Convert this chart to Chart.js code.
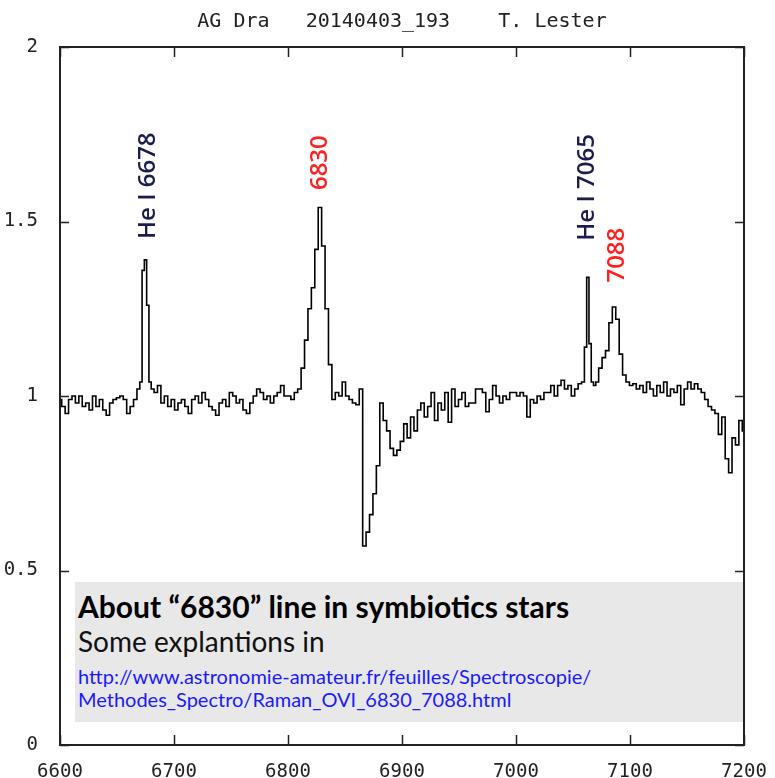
<!DOCTYPE html>
<html>
<head>
<meta charset="utf-8">
<title>AG Dra 20140403_193</title>
<script src="https://cdn.jsdelivr.net/npm/chart.js@4/dist/chart.umd.min.js"></script>
<style>
    body { margin: 0; background: #fff; }
    #wrap { position: relative; width: 775px; height: 778px; }
    #note {
        position: absolute; left: 75px; top: 582px; width: 668px; height: 140px;
        background: #e8e8e8; font-family: Lato, "Open Sans", sans-serif;
    }
    #note div { position: absolute; left: 3px; line-height: 1; white-space: nowrap; }
    #note .head { top: 9px; font-size: 30px; font-weight: bold; color: #000; }
    #note .sub { top: 45px; font-size: 28px; color: #111; }
    #note .url { font-size: 20px; color: #1a1aff; }
</style>
</head>
<body>
<div id="wrap">
    <canvas id="spectrum"></canvas>
    <div id="note">
        <div class="head">About “6830” line in symbiotics stars</div>
        <div class="sub">Some explantions in</div>
        <div class="url" style="top:84px">http://www.astronomie-amateur.fr/feuilles/Spectroscopie/</div>
        <div class="url" style="top:107px">Methodes_Spectro/Raman_OVI_6830_7088.html</div>
    </div>
</div>
<script>
    // wavelength in angstrom (denser around the narrow He I lines)
    var wavelength = [
        6600, 6603, 6606, 6609, 6612, 6615, 6618, 6621, 6624, 6627,
        6630, 6633, 6636, 6639, 6642, 6645, 6648, 6651, 6654, 6657,
        6660, 6663, 6666, 6669, 6671, 6673, 6675, 6677, 6679, 6681, 6684, 6687,
        6690, 6693, 6696, 6699, 6702, 6705, 6708, 6711, 6714, 6717,
        6720, 6723, 6726, 6729, 6732, 6735, 6738, 6741, 6744, 6747,
        6750, 6753, 6756, 6759, 6762, 6765, 6768, 6771, 6774, 6777,
        6780, 6783, 6786, 6789, 6792, 6795, 6798, 6801, 6804, 6807,
        6810, 6813, 6816, 6819, 6822, 6825, 6828, 6831, 6834, 6837,
        6840, 6843, 6846, 6849, 6852, 6855, 6858, 6861, 6864, 6867,
        6870, 6873, 6876, 6879, 6882, 6885, 6888, 6891, 6894, 6897,
        6900, 6903, 6906, 6909, 6912, 6915, 6918, 6921, 6924, 6927,
        6930, 6933, 6936, 6939, 6942, 6945, 6948, 6951, 6954, 6957,
        6960, 6963, 6966, 6969, 6972, 6975, 6978, 6981, 6984, 6987,
        6990, 6993, 6996, 6999, 7002, 7005, 7008, 7011, 7014, 7017,
        7020, 7023, 7026, 7029, 7032, 7035, 7038, 7041, 7044, 7047,
        7050, 7053, 7056, 7059, 7061, 7063, 7065, 7067, 7069, 7071, 7074, 7077,
        7080, 7083, 7086, 7089, 7092, 7095, 7098, 7101, 7104, 7107,
        7110, 7113, 7116, 7119, 7122, 7125, 7128, 7131, 7134, 7137,
        7140, 7143, 7146, 7149, 7152, 7155, 7158, 7161, 7164, 7167,
        7170, 7173, 7176, 7179, 7182, 7185, 7188, 7191, 7194, 7197,
        7200
    ];

    // relative flux (continuum = 1)
    var flux = [
        0.99, 0.97, 0.95, 0.99, 1.00, 0.98, 1.00, 0.97, 0.98, 0.96,
        1.00, 0.97, 0.99, 0.96, 0.945, 0.98, 0.99, 0.995, 1.00, 0.99,
        0.95, 0.97, 0.99, 1.02, 1.04, 1.36, 1.39, 1.26, 1.04, 1.02, 1.01, 1.03,
        0.98, 1.00, 0.97, 0.99, 0.96, 0.98, 0.99, 0.97, 0.95, 0.99,
        1.00, 0.98, 1.01, 0.99, 0.97, 0.96, 0.945, 0.98, 0.99, 0.97,
        1.01, 1.00, 0.98, 0.99, 0.96, 0.95, 0.98, 1.00, 1.02, 1.01,
        0.99, 1.00, 0.98, 1.00, 1.01, 1.03, 1.00, 1.00, 0.99, 1.01,
        1.02, 1.08, 1.16, 1.25, 1.31, 1.42, 1.54, 1.43, 1.25, 1.09,
        0.99, 1.01, 1.00, 1.04, 1.00, 0.99, 0.98, 0.975, 1.02, 0.57,
        0.61, 0.66, 0.72, 0.80, 0.98, 0.93, 0.90, 0.85, 0.83, 0.845,
        0.87, 0.92, 0.88, 0.94, 0.90, 0.96, 0.98, 0.94, 0.97, 1.01,
        0.93, 0.98, 0.96, 1.01, 0.925, 1.02, 0.97, 0.99, 1.01, 0.97,
        0.98, 0.98, 1.02, 1.02, 1.01, 0.955, 0.99, 1.03, 1.00, 0.98,
        1.00, 0.99, 1.01, 1.01, 1.00, 1.01, 1.00, 0.94, 0.99, 0.98,
        1.00, 0.99, 1.01, 1.01, 1.03, 1.00, 1.03, 1.045, 1.02, 1.03,
        1.00, 1.02, 1.035, 1.04, 1.14, 1.34, 1.15, 1.04, 1.03, 1.04, 1.08, 1.11,
        1.13, 1.21, 1.255, 1.22, 1.12, 1.06, 1.04, 1.03, 1.035, 1.02,
        1.03, 1.01, 1.04, 1.02, 1.00, 1.03, 1.01, 1.04, 1.00, 1.02,
        1.01, 1.03, 0.975, 1.02, 1.04, 1.02, 1.035, 1.02, 1.01, 0.99,
        0.97, 0.96, 0.95, 0.89, 0.94, 0.82, 0.78, 0.88, 0.86, 0.93,
        0.90
    ];

    var xTicks = [6600, 6700, 6800, 6900, 7000, 7100, 7200];
    var yTicks = [0, 0.5, 1, 1.5, 2];

    // line identifications: label, wavelength where it sits, flux level of its foot
    var lineNames = ['He I 6678', '6830', 'He I 7065', '7088'];
    var lineAt = [6677, 6828, 7062, 7089];
    var lineFoot = [1.45, 1.59, 1.445, 1.325];
    var lineColors = ['#1d1d4d', '#ff2020', '#1d1d4d', '#ff2020'];

    var chartTitle = 'AG Dra   20140403_193    T. Lester';

    var points = wavelength.map(function (w, i) {
        return { x: w, y: flux[i] };
    });

    // gnuplot-like frame with inward ticks on all four sides
    var framePlugin = {
        id: 'frame',
        afterDatasetsDraw: function (chart) {
            var ctx = chart.ctx;
            var a = chart.chartArea;
            var sx = chart.scales.x;
            var sy = chart.scales.y;

            ctx.save();
            ctx.strokeStyle = '#222';
            ctx.lineWidth = 2;
            ctx.strokeRect(a.left, a.top, a.right - a.left, a.bottom - a.top);

            ctx.lineWidth = 1.5;
            ctx.beginPath();
            xTicks.forEach(function (t) {
                var px = Math.round(sx.getPixelForValue(t)) + 0.5;
                ctx.moveTo(px, a.bottom);
                ctx.lineTo(px, a.bottom - 10);
                ctx.moveTo(px, a.top);
                ctx.lineTo(px, a.top + 10);
            });
            yTicks.forEach(function (t) {
                var py = Math.round(sy.getPixelForValue(t)) + 0.5;
                ctx.moveTo(a.left, py);
                ctx.lineTo(a.left + 9, py);
                ctx.moveTo(a.right, py);
                ctx.lineTo(a.right - 9, py);
            });
            ctx.stroke();

            // line identifications, written upwards
            ctx.font = '600 24px "Open Sans", sans-serif';
            ctx.textAlign = 'left';
            ctx.textBaseline = 'middle';
            lineNames.forEach(function (name, i) {
                ctx.save();
                ctx.translate(sx.getPixelForValue(lineAt[i]), sy.getPixelForValue(lineFoot[i]));
                ctx.rotate(-Math.PI / 2);
                ctx.fillStyle = lineColors[i];
                ctx.fillText(name, 0, 0);
                ctx.restore();
            });

            // title above the frame
            ctx.font = '20px "DejaVu Sans Mono", monospace';
            ctx.fillStyle = '#222';
            ctx.textAlign = 'center';
            ctx.textBaseline = 'middle';
            ctx.fillText(chartTitle, (a.left + a.right) / 2, 22);
            ctx.restore();
        }
    };

    var ctx = document.getElementById('spectrum').getContext('2d');
    var spectrumChart = new Chart(ctx, {
        type: 'line',
        data: {
            datasets: [{
                data: points,
                borderColor: '#000',
                borderWidth: 1.6,
                pointRadius: 0,
                stepped: 'middle',
                fill: false
            }]
        },
        options: {
            responsive: true,
            maintainAspectRatio: false,
            animation: false,
            layout: { padding: { top: 47, right: 31, left: 0, bottom: 0 } },
            plugins: {
                legend: { display: false },
                tooltip: { enabled: false }
            },
            scales: {
                x: {
                    type: 'linear',
                    min: 6600,
                    max: 7200,
                    afterBuildTicks: function (s) {
                        s.ticks = xTicks.map(function (v) { return { value: v }; });
                    },
                    afterFit: function (s) { s.height = 33; },
                    grid: { display: false },
                    border: { display: false },
                    ticks: {
                        padding: 8,
                        color: '#222',
                        font: { family: '"DejaVu Sans Mono", monospace', size: 19 },
                        maxRotation: 0,
                        callback: function (v) { return String(v); }
                    }
                },
                y: {
                    min: 0,
                    max: 2,
                    afterBuildTicks: function (s) {
                        s.ticks = yTicks.map(function (v) { return { value: v }; });
                    },
                    afterFit: function (s) { s.width = 60; },
                    grid: { display: false },
                    border: { display: false },
                    ticks: {
                        padding: 14,
                        color: '#222',
                        font: { family: '"DejaVu Sans Mono", monospace', size: 19 },
                        callback: function (v) { return String(v); }
                    }
                }
            }
        },
        plugins: [framePlugin]
    });
</script>
</body>
</html>
